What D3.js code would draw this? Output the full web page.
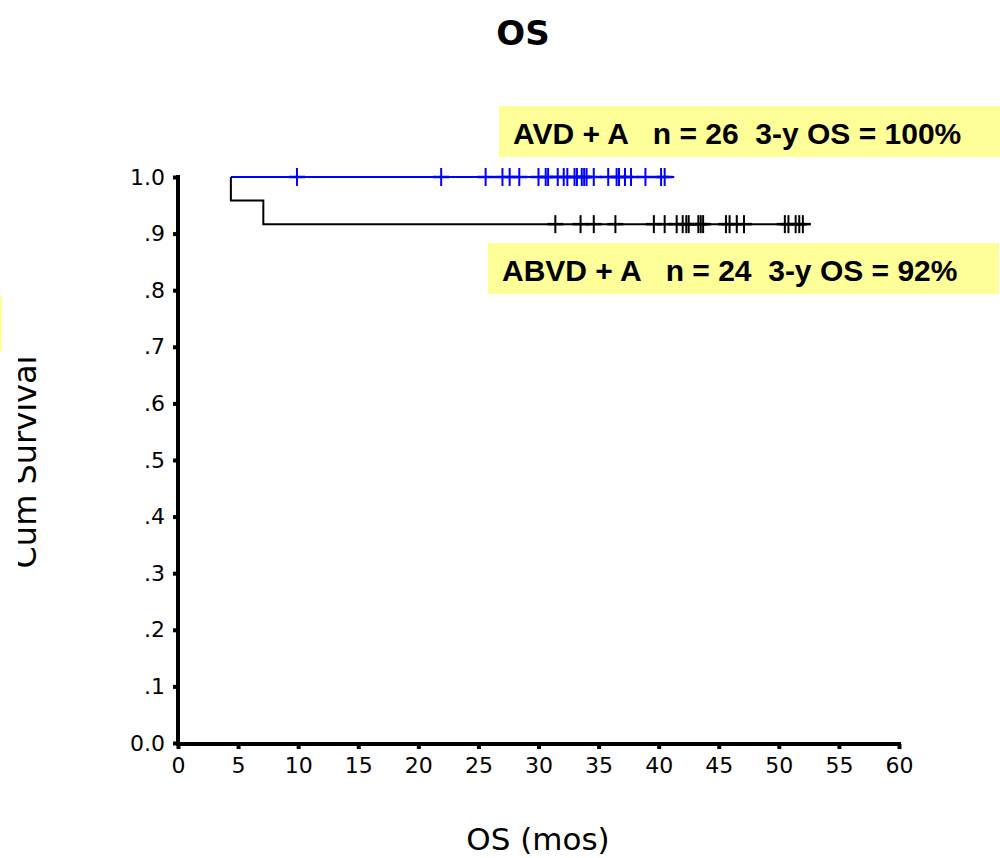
<!DOCTYPE html>
<html>
<head>
<meta charset="utf-8">
<script src="https://cdn.jsdelivr.net/npm/d3@7"></script>
<style>
  html, body { margin: 0; padding: 0; background: #fff; }
  svg { display: block; }
</style>
</head>
<body>
<svg id="chart" width="1000" height="858"></svg>
<script>
// Kaplan–Meier overall survival, two treatment arms
const xTicks = [0, 5, 10, 15, 20, 25, 30, 35, 40, 45, 50, 55, 60];
const yTicks = [0, 0.1, 0.2, 0.3, 0.4, 0.5, 0.6, 0.7, 0.8, 0.9, 1.0];
const yTickLabels = ["0.0", ".1", ".2", ".3", ".4", ".5", ".6", ".7", ".8", ".9", "1.0"];

// AVD + A: no events, censored follow-up times (months)
const avdSteps = [[4.4, 1.0], [41.3, 1.0]];
const avdCensored = [9.9, 21.9, 25.6, 27.0, 27.6, 28.4, 30.0, 30.6, 30.8, 31.6, 32.1, 32.4,
  33.0, 33.2, 33.6, 33.8, 34.0, 34.6, 35.8, 36.5, 36.7, 37.2, 37.7, 38.9, 40.2, 40.5];

// ABVD + A: two deaths, then censored follow-up
const abvdSteps = [[4.4, 1.0], [4.4, 0.9583], [7.1, 0.9583], [7.1, 0.9167], [52.2, 0.9167]];
const abvdCensored = [31.4, 33.5, 34.6, 36.4, 39.6, 40.5, 41.5, 42.0, 42.3, 42.5, 43.3, 43.5,
  43.7, 45.6, 45.9, 46.5, 47.1, 50.5, 50.8, 51.4, 51.7, 52.0];

const legendLabels = ["AVD + A   n = 26  3-y OS = 100%", "ABVD + A   n = 24  3-y OS = 92%"];

const svg = d3.select("#chart");
const x = d3.scaleLinear().domain([0, 60]).range([178, 899]);
const y = d3.scaleLinear().domain([0, 1]).range([743, 177]);

// Title
svg.append("text").attr("x", 523).attr("y", 45).attr("text-anchor", "middle")
  .attr("font-family", "DejaVu Sans, Verdana, sans-serif").attr("font-weight", "bold")
  .attr("font-size", 34).text("OS");

// Axes
const xAxis = svg.append("g").attr("transform", "translate(0,744)")
  .call(d3.axisBottom(x).tickValues(xTicks).tickSize(5).tickPadding(8).tickFormat(d3.format("d")));
const yAxis = svg.append("g").attr("transform", "translate(178,0)")
  .call(d3.axisLeft(y).tickValues(yTicks).tickSize(5).tickPadding(8)
    .tickFormat((d, i) => yTickLabels[i]));
[xAxis, yAxis].forEach(g => {
  g.select(".domain").attr("stroke", "#000").attr("stroke-width", 4)
    .attr("stroke-linecap", "square");
  g.selectAll(".tick line").attr("stroke", "#000").attr("stroke-width", 4);
  g.selectAll(".tick text").attr("font-family", "DejaVu Sans, Verdana, sans-serif")
    .attr("font-size", 22).attr("fill", "#000");
});
xAxis.select(".domain").attr("d", `M${x(0)},0H${x(60)}`);
yAxis.select(".domain").attr("d", `M0,${y(1)}V${y(0) + 1}`);

// Axis titles
svg.append("text").attr("x", 538).attr("y", 850).attr("text-anchor", "middle")
  .attr("font-family", "DejaVu Sans, Verdana, sans-serif").attr("font-size", 31)
  .text("OS (mos)");
svg.append("clipPath").attr("id", "ytitle-clip")
  .append("rect").attr("x", 18).attr("y", 0).attr("width", 100).attr("height", 858);
svg.append("g").attr("clip-path", "url(#ytitle-clip)")
  .append("text")
  .attr("transform", "translate(36,462) rotate(-90)").attr("text-anchor", "middle")
  .attr("font-family", "DejaVu Sans, Verdana, sans-serif").attr("font-size", 32)
  .text("Cum Survival");

// Yellow sliver at left edge
svg.append("rect").attr("x", -10).attr("y", 296).attr("width", 12).attr("height", 55)
  .attr("fill", "#ffff99");

// Survival curves
const line = d3.line().x(d => x(d[0])).y(d => y(d[1])).curve(d3.curveStepAfter);
function drawArm(steps, censored, color) {
  svg.append("path").datum(steps).attr("d", line).attr("fill", "none")
    .attr("stroke", color).attr("stroke-width", 2);
  const lvl = steps[steps.length - 1][1];
  const g = svg.append("g").attr("stroke", color).attr("stroke-width", 2);
  g.selectAll("line.v").data(censored).join("line").attr("class", "v")
    .attr("x1", d => x(d)).attr("x2", d => x(d))
    .attr("y1", y(lvl) - 9).attr("y2", y(lvl) + 9);
  g.selectAll("line.h").data(censored).join("line").attr("class", "h")
    .attr("x1", d => x(d) - 8).attr("x2", d => x(d) + 8)
    .attr("y1", y(lvl)).attr("y2", y(lvl)).attr("stroke-width", 2.5);
}
drawArm(abvdSteps, abvdCensored, "#000");
drawArm(avdSteps, avdCensored, "#0000ff");

// Legend boxes
const legendBoxes = [
  { x: 499, y: 106, w: 501, h: 51, tx: 513, ty: 144 },
  { x: 488, y: 243, w: 511, h: 51, tx: 502, ty: 281 }
];
legendBoxes.forEach((b, i) => {
  svg.append("rect").attr("x", b.x).attr("y", b.y).attr("width", b.w).attr("height", b.h)
    .attr("fill", "#ffff99");
  svg.append("text").attr("x", b.tx).attr("y", b.ty)
    .attr("font-family", "Liberation Sans, Arial, sans-serif").attr("font-weight", "bold")
    .attr("font-size", 30).attr("xml:space", "preserve").style("white-space", "pre")
    .text(legendLabels[i]);
});
</script>
</body>
</html>
